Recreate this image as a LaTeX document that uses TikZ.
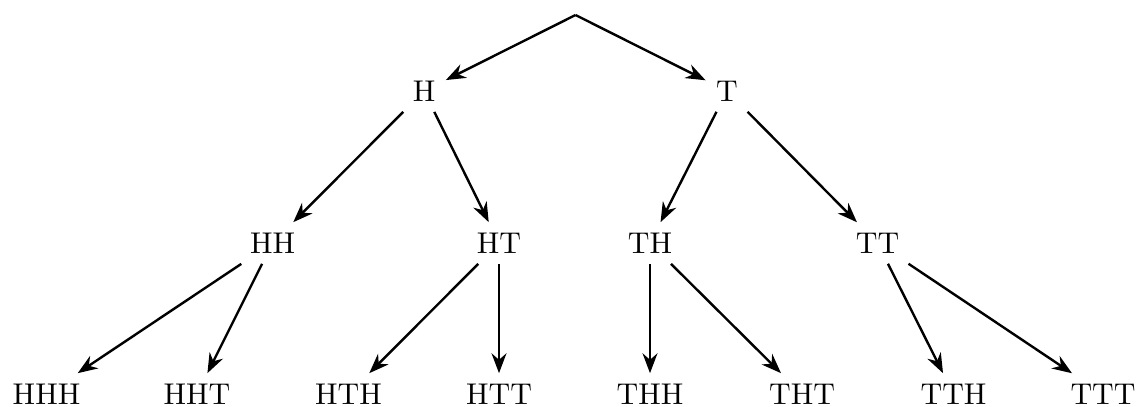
\documentclass[tikz,border=0pt]{standalone}
\usetikzlibrary{arrows.meta}
\begin{document}
\begin{tikzpicture}[x=0.33333pt, y=-0.33333pt,
  outcome/.style={inner sep=0.3333em},
  branch/.style={-{Stealth}, thick}]
  \useasboundingbox (0,0) rectangle (1139,406);
  % start of the three tosses
  \coordinate (root) at (575.5,15);
  % first toss
  \node[outcome] (H) at (424,91) {H};
  \node[outcome] (T) at (727,91) {T};
  % second toss
  \node[outcome] (HH) at (272.5,243) {HH};
  \node[outcome] (HT) at (499,243) {HT};
  \node[outcome] (TH) at (650,243) {TH};
  \node[outcome] (TT) at (877.5,243) {TT};
  % third toss
  \node[outcome] (HHH) at (46.5,394) {HHH};
  \node[outcome] (HHT) at (197,394) {HHT};
  \node[outcome] (HTH) at (348.5,394) {HTH};
  \node[outcome] (HTT) at (499,394) {HTT};
  \node[outcome] (THH) at (650,394) {THH};
  \node[outcome] (THT) at (802,394) {THT};
  \node[outcome] (TTH) at (953.5,394) {TTH};
  \node[outcome] (TTT) at (1103,394) {TTT};
  % branches
  \draw[branch] (root) -- (H);
  \draw[branch] (root) -- (T);
  \draw[branch] (H) -- (HH);
  \draw[branch] (H) -- (HT);
  \draw[branch] (T) -- (TH);
  \draw[branch] (T) -- (TT);
  \draw[branch] (HH) -- (HHH);
  \draw[branch] (HH) -- (HHT);
  \draw[branch] (HT) -- (HTH);
  \draw[branch] (HT) -- (HTT);
  \draw[branch] (TH) -- (THH);
  \draw[branch] (TH) -- (THT);
  \draw[branch] (TT) -- (TTH);
  \draw[branch] (TT) -- (TTT);
\end{tikzpicture}
\end{document}
